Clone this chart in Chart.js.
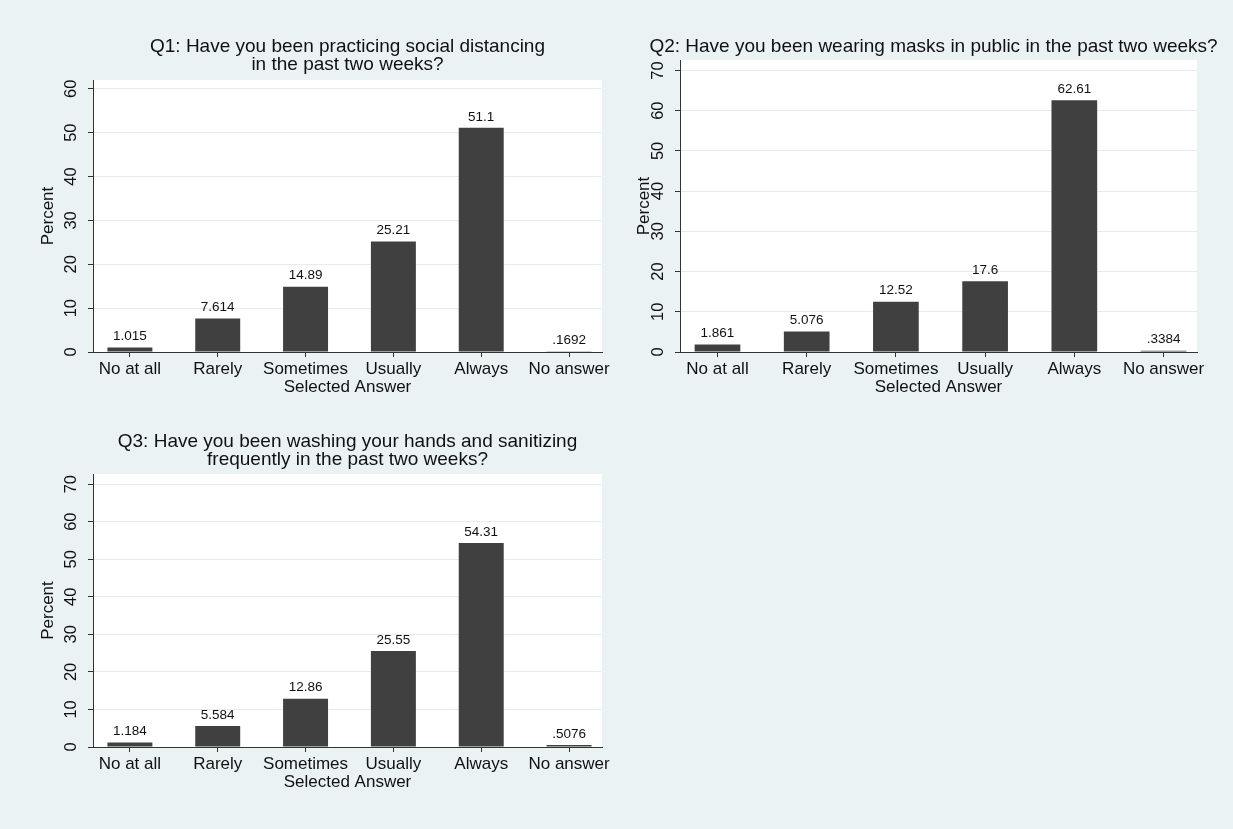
<!DOCTYPE html>
<html>
<head>
<meta charset="utf-8">
<script src="https://cdn.jsdelivr.net/npm/chart.js@4.4.1/dist/chart.umd.min.js"></script>
<style>
    html, body { margin: 0; padding: 0; background: #EAF2F3; }
    body { width: 1233px; height: 829px; position: relative; overflow: hidden; }
    canvas { position: absolute; left: 0; top: 0; }
</style>
</head>
<body>
<canvas id="q1Chart" width="1233" height="829"></canvas>
<canvas id="q2Chart" width="1233" height="829"></canvas>
<canvas id="q3Chart" width="1233" height="829"></canvas>
<script>
// Answers (same for all three questions)
const categories = ['No at all', 'Rarely', 'Sometimes', 'Usually', 'Always', 'No answer'];

// Percent of respondents per answer
const q1Values = [1.015, 7.614, 14.89, 25.21, 51.1, 0.1692];
const q2Values = [1.861, 5.076, 12.52, 17.6, 62.61, 0.3384];
const q3Values = [1.184, 5.584, 12.86, 25.55, 54.31, 0.5076];

// Y tick labels
const q1Ticks = [0, 10, 20, 30, 40, 50, 60];
const q2Ticks = [0, 10, 20, 30, 40, 50, 60, 70];
const q3Ticks = [0, 10, 20, 30, 40, 50, 60, 70];

const q1Title = ['Q1: Have you been practicing social distancing', 'in the past two weeks?'];
const q2Title = ['Q2: Have you been wearing masks in public in the past two weeks?'];
const q3Title = ['Q3: Have you been washing your hands and sanitizing', 'frequently in the past two weeks?'];

const FONT = "'Liberation Sans', Arial, Helvetica, sans-serif";
const TEXT = '#111111';
const AXIS = '#333333';
const GRID = '#E3ECEF';
const BAR = '#404040';

// Stata style numbers: drop the leading zero
function fmt(v) {
    return String(v).replace(/^0\./, '.');
}

// White plot region, title, rotated y labels, value labels above bars
const stataPlugin = {
    id: 'stata',
    beforeDraw(chart) {
        const a = chart.chartArea;
        const ctx = chart.ctx;
        ctx.save();
        ctx.fillStyle = '#ffffff';
        ctx.fillRect(a.left, a.top, a.right - a.left, a.bottom - a.top);
        ctx.restore();
    },
    afterDraw(chart, args, opts) {
        const ctx = chart.ctx;
        const a = chart.chartArea;
        const y = chart.scales.y;
        ctx.save();
        ctx.fillStyle = TEXT;
        ctx.textAlign = 'center';
        ctx.textBaseline = 'middle';

        // title, centred over the plot, not squeezed
        ctx.font = '19px ' + FONT;
        opts.title.forEach((line, i) => {
            ctx.fillText(line, (a.left + a.right) / 2 + opts.titleShift, opts.titleY + i * 18);
        });

        ctx.font = '16.5px ' + FONT;
        y.ticks.forEach(t => {
            const py = y.getPixelForValue(t.value);
            ctx.save();
            ctx.translate(a.left - 21.5, py);
            ctx.rotate(-Math.PI / 2);
            ctx.fillText(String(t.value), 0, 0);
            ctx.restore();
        });

        ctx.font = '13.5px ' + FONT;
        const meta = chart.getDatasetMeta(0);
        const data = chart.data.datasets[0].data;
        meta.data.forEach((bar, i) => {
            ctx.fillText(fmt(data[i].y), bar.x, bar.y - 11);
        });
        ctx.restore();
    }
};

function makeChart(id, title, values, yTicks, yMax, area, yWidth, titleY, titleShift) {
    return new Chart(document.getElementById(id), {
        type: 'bar',
        data: {
            datasets: [{
                data: values.map((v, i) => ({ x: i + 1, y: v })),
                backgroundColor: BAR,
                borderWidth: 0,
                categoryPercentage: 1,
                barPercentage: 0.512
            }]
        },
        options: {
            responsive: false,
            animation: false,
            devicePixelRatio: 1,
            layout: {
                padding: {
                    left: area.left - yWidth,
                    right: 1233 - area.right,
                    top: area.top,
                    bottom: 829 - area.bottom - 46
                }
            },
            plugins: {
                legend: { display: false },
                tooltip: { enabled: false },
                title: { display: false },
                stata: { title: title, titleY: titleY, titleShift: titleShift }
            },
            scales: {
                x: {
                    type: 'linear',
                    offset: false,
                    min: 0.58,
                    max: 6.375,
                    afterBuildTicks: scale => {
                        scale.ticks = categories.map((c, i) => ({ value: i + 1 }));
                    },
                    afterFit: scale => { scale.height = 46; },
                    ticks: {
                        autoSkip: false,
                        maxRotation: 0,
                        padding: 2,
                        color: TEXT,
                        font: { family: FONT, size: 17 },
                        callback: value => categories[value - 1]
                    },
                    grid: {
                        offset: false,
                        drawOnChartArea: false,
                        tickLength: 5,
                        tickColor: AXIS
                    },
                    border: { display: true, color: AXIS, width: 1 },
                    title: {
                        display: true,
                        text: 'Selected Answer',
                        color: TEXT,
                        padding: 0,
                        font: { family: FONT, size: 17 }
                    }
                },
                y: {
                    min: 0,
                    max: yMax,
                    afterBuildTicks: scale => {
                        scale.ticks = yTicks.map(v => ({ value: v }));
                    },
                    afterFit: scale => { scale.width = yWidth; },
                    ticks: { display: false },
                    grid: {
                        color: GRID,
                        lineWidth: 1,
                        tickLength: 5,
                        tickColor: AXIS
                    },
                    border: { display: true, color: AXIS, width: 1 },
                    title: {
                        display: true,
                        text: 'Percent',
                        color: TEXT,
                        padding: 0,
                        font: { family: FONT, size: 17 }
                    }
                }
            }
        },
        plugins: [stataPlugin]
    });
}

makeChart('q1Chart', q1Title, q1Values, q1Ticks, 62,
    { left: 93, top: 80, right: 602, bottom: 352 }, 55, 47, 0);
makeChart('q2Chart', q2Title, q2Values, q2Ticks, 72.6,
    { left: 680, top: 60, right: 1197, bottom: 352 }, 46, 47, -5);
makeChart('q3Chart', q3Title, q3Values, q3Ticks, 72.7,
    { left: 93, top: 474, right: 602, bottom: 747 }, 55, 442, 0);
</script>
</body>
</html>
